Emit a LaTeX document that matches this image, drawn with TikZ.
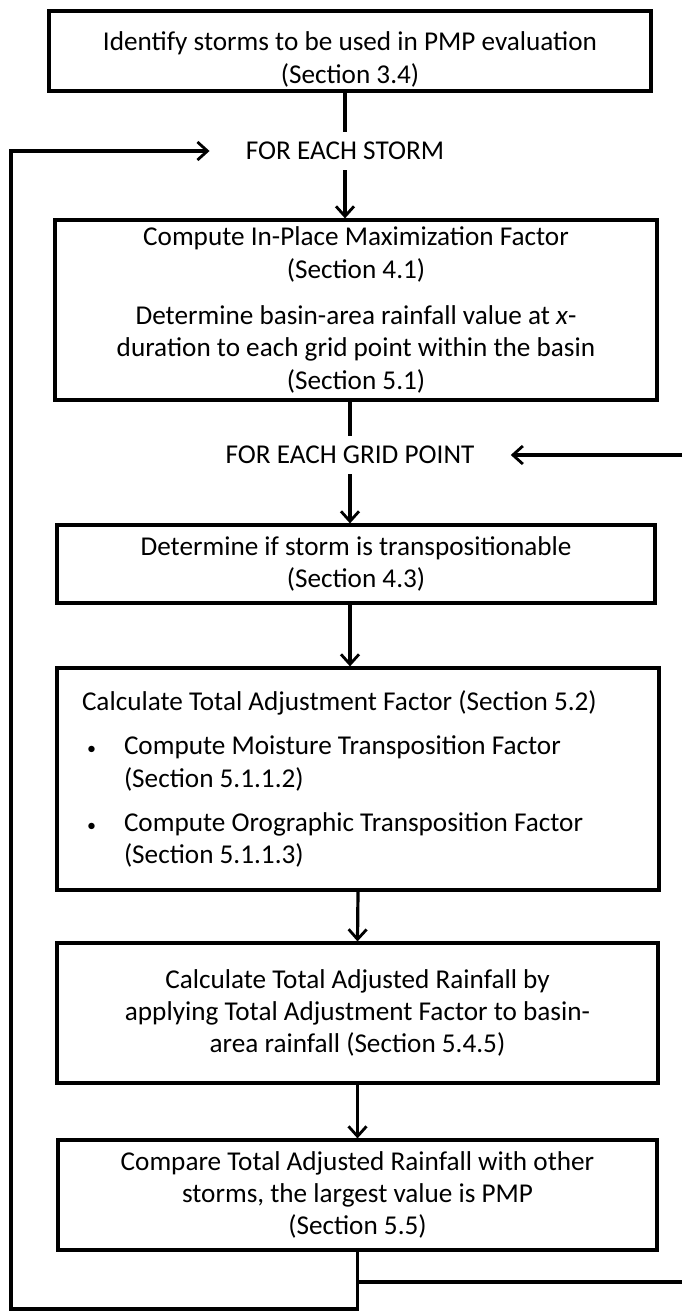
\documentclass[tikz,border=0pt]{standalone}
\usepackage{fontspec}
\setmainfont{Carlito}
\usetikzlibrary{arrows.meta}

\begin{document}
\begin{tikzpicture}[x=0.5pt, y=-0.5pt,
    trait/.style={line width=1.6pt},
    fleche/.style={trait, -{Straight Barb[length=5pt, width=9pt, line width=1.4pt]}},
    texte/.style={font=\fontsize{13.6}{16.2}\selectfont},
    boite/.style={texte, draw, line width=1.6pt, align=center, inner sep=2pt},
    titre/.style={texte, inner sep=5pt}]
  \useasboundingbox (0,0) rectangle (682,1311);
  \def\largeur{301pt}
  \def\puce{\makebox[21pt][l]{\hspace{2.5pt}{\fontsize{9}{9}\selectfont\textbullet}}}

  % Boîtes
  \node[boite, minimum width=\largeur, minimum height=38pt] (identifier) at (350,51)
  {\rule{0pt}{18pt}Identify storms to be used in PMP evaluation\\(Section 3.4)};

  \node[boite, minimum width=\largeur, minimum height=90pt] (maximiser) at (356,310)
  {Compute In-Place Maximization Factor\\(Section 4.1)\\[7pt]
   Determine basin-area rainfall value at \textit{x}-\\
   duration to each grid point within the basin\\(Section 5.1)};

  \node[boite, minimum width=299pt, minimum height=39pt] (transposer) at (356,564)
  {Determine if storm is transpositionable\\(Section 4.3)};

  \node[boite, align=flush left, text width=276pt, inner xsep=12.5pt, minimum height=111pt] (ajustement) at (358,779)
  {Calculate Total Adjustment Factor (Section 5.2)\\[6pt]
   \puce Compute Moisture Transposition Factor\\
   \hspace*{21pt}(Section 5.1.1.2)\\[6pt]
   \puce Compute Orographic Transposition Factor\\
   \hspace*{21pt}(Section 5.1.1.3)};

  \node[boite, minimum width=300.5pt, minimum height=70pt] (pluie) at (357.5,1013)
  {Calculate Total Adjusted Rainfall by\\applying Total Adjustment Factor to basin-\\area rainfall (Section 5.4.5)};

  \node[boite, minimum width=299.5pt, minimum height=55pt] (comparer) at (357.5,1195)
  {Compare Total Adjusted Rainfall with other\\storms, the largest value is PMP\\(Section 5.5)};

  % Boucles
  \node[titre] (tempete) at (345,151) {FOR EACH STORM};
  \node[titre] (grille) at (350,455) {FOR EACH GRID POINT};
  \coordinate (coinbas) at (11,1309);
  \coordinate (droithaut) at (682,455);
  \coordinate (droitbas) at (682,1282);

  % Flèches
  \draw[trait] (identifier.south -| tempete) -- (tempete);
  \draw[fleche] (tempete) -- (tempete |- maximiser.north);
  \draw[trait] (maximiser.south -| grille) -- (grille);
  \draw[fleche] (grille) -- (grille |- transposer.north);
  \draw[fleche] (transposer.south -| grille) -- (grille |- ajustement.north);
  \draw[fleche] (ajustement.south) -- (pluie.north);
  \draw[fleche] (pluie.south) -- (comparer.north);

  % Retours
  \draw[fleche] (comparer.south) -- (comparer.south |- coinbas) -- (coinbas)
  -- (coinbas |- tempete) -- ([xshift=-13pt]tempete.west);
  \draw[trait] (comparer.south |- droitbas) -- (droitbas);
  \draw[fleche] (droithaut) -- ([xshift=13pt]grille.east);
\end{tikzpicture}
\end{document}
